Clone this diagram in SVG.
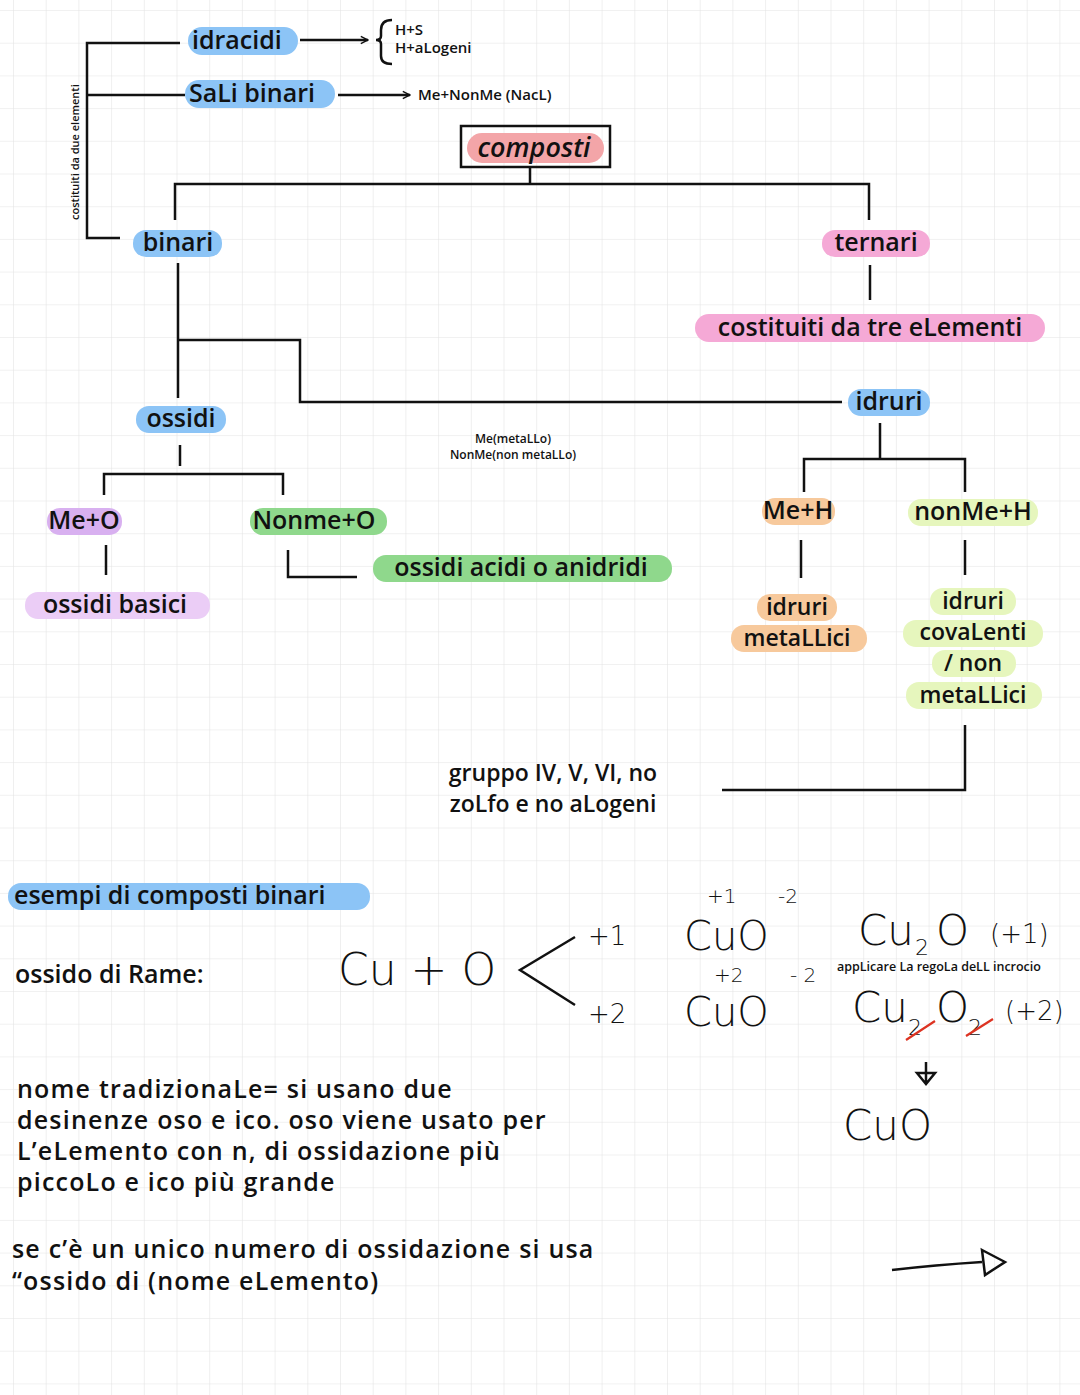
<svg xmlns="http://www.w3.org/2000/svg" width="1080" height="1395" viewBox="0 0 1080 1395">
<defs>
<pattern id="grid" x="13" y="10" width="32.7" height="32.7" patternUnits="userSpaceOnUse">
<path d="M0 0H32.7M0 0V32.7" fill="none" stroke="#e4e4e4" stroke-width="1.2"/>
</pattern>
<marker id="ar" viewBox="0 0 10 10" refX="9" refY="5" markerWidth="9" markerHeight="12" orient="auto" markerUnits="userSpaceOnUse"><path d="M1 1L9 5L1 9" fill="none" stroke="#111" stroke-width="1.6"/></marker>
</defs>
<style>
.t{font-family:"Open Sans","Liberation Sans",sans-serif;fill:#111;font-weight:600}
.l{font-size:25px}
.m{font-size:23px}
.p{font-size:25px;letter-spacing:1.2px}
.s{font-size:15px}
.c{text-anchor:middle}
.h{font-family:"DejaVu Sans","Liberation Sans",sans-serif;fill:#111;font-weight:200}
.ln{fill:none;stroke:#111;stroke-width:2.5}
.blue{fill:#8cc4f6}.pink{fill:#f5a9d6}.rose{fill:#f3a5a8}.purp{fill:#d8b0f0}.lav{fill:#ebcdf6}
.green{fill:#8fd88c}.orng{fill:#f7c99c}.yg{fill:#e6f6bd}
</style>
<rect width="1080" height="1395" fill="#fff"/>
<rect width="1080" height="1395" fill="url(#grid)"/>
<g id="connectors">
<path class="ln" d="M180 43H87V238H120M87 95H185"/>
<path class="ln" d="M300 40H368" marker-end="url(#ar)"/>
<path class="ln" d="M338 95H410" marker-end="url(#ar)"/>
<path class="ln" stroke-width="1.8" d="M392 20Q381 20 381 30V36Q381 40 376 40Q381 40 381 44V56Q381 64 392 64"/>
<path class="ln" d="M530 167V184M175 220V184H869V220"/>
<path class="ln" d="M870 265V300"/>
<path class="ln" d="M178 263V398M178 340H300V402H842"/>
<path class="ln" d="M180 445V466M104 495V474H283V495"/>
<path class="ln" d="M106 545V575M288 550V577H357"/>
<path class="ln" d="M880 423V458M804 492V459H965V492"/>
<path class="ln" d="M801 540V578M965 540V575"/>
<path class="ln" d="M965 725V790H722"/>
<path class="ln" stroke-width="1.8" d="M575 937L520 970L575 1005"/>
<path class="ln" stroke-width="1.8" d="M926 1062V1082M917 1073L926 1084L935 1073Z"/>
<path class="ln" stroke-width="2" d="M892 1270Q935 1265 982 1262M982 1250L1005 1262L985 1275Z"/>
</g>
<g id="idracidi"><rect class="blue" x="188" y="27" width="110" height="28" rx="14"/><text class="t l" x="192" y="49">idracidi</text></g>
<g id="hs"><text class="t s" x="395" y="35">H+S</text><text class="t s" x="395" y="53">H+aLogeni</text></g>
<g id="sali"><rect class="blue" x="185" y="80" width="150" height="28" rx="14"/><text class="t l" x="189" y="102">SaLi binari</text></g>
<g id="menonme"><text class="t s" x="418" y="100">Me+NonMe (NacL)</text></g>
<g id="vert"><text class="t" font-size="11" transform="translate(79 220) rotate(-90)">costituiti da due elementi</text></g>
<g id="composti"><rect x="461" y="126" width="149" height="41" fill="none" stroke="#111" stroke-width="2.5"/><rect class="rose" x="467" y="133" width="137" height="30" rx="15"/><text class="t c" x="534" y="157" font-size="27" font-family="Liberation Serif,serif" font-weight="700" font-style="italic">composti</text></g>
<g id="binari"><rect class="blue" x="133" y="230" width="89" height="27" rx="13"/><text class="t l c" x="178" y="251">binari</text></g>
<g id="ternari"><rect class="pink" x="822" y="230" width="108" height="27" rx="13"/><text class="t l c" x="876" y="251">ternari</text></g>
<g id="tre"><rect class="pink" x="695" y="314" width="350" height="28" rx="14"/><text class="t l c" x="870" y="336">costituiti da tre eLementi</text></g>
<g id="idruri"><rect class="blue" x="848" y="389" width="82" height="27" rx="13"/><text class="t l c" x="889" y="410">idruri</text></g>
<g id="ossidi"><rect class="blue" x="136" y="406" width="90" height="27" rx="13"/><text class="t l c" x="181" y="427">ossidi</text></g>
<g id="legend"><text class="t c" font-size="12" x="513" y="443">Me(metaLLo)</text><text class="t c" font-size="12" x="513" y="459">NonMe(non metaLLo)</text></g>
<g id="meo"><rect class="purp" x="47" y="508" width="75" height="27" rx="13"/><text class="t l c" x="84" y="529">Me+O</text></g>
<g id="nonmeo"><rect class="green" x="250" y="508" width="137" height="27" rx="13"/><text class="t l c" x="314" y="529">Nonme+O</text></g>
<g id="basici"><rect class="lav" x="25" y="592" width="185" height="27" rx="13"/><text class="t l c" x="115" y="613">ossidi basici</text></g>
<g id="acidi"><rect class="green" x="373" y="555" width="299" height="27" rx="13"/><text class="t l c" x="521" y="576">ossidi acidi o anidridi</text></g>
<g id="meh"><rect class="orng" x="762" y="498" width="73" height="27" rx="13"/><text class="t l c" x="798" y="519">Me+H</text></g>
<g id="nonmeh"><rect class="yg" x="908" y="499" width="130" height="27" rx="13"/><text class="t l c" x="973" y="520">nonMe+H</text></g>
<g id="metallici"><rect class="orng" x="757" y="594" width="80" height="27" rx="13"/><rect class="orng" x="731" y="625" width="136" height="27" rx="13"/><text class="t m c" x="797" y="615">idruri</text><text class="t m c" x="797" y="646">metaLLici</text></g>
<g id="covalenti"><rect class="yg" x="930" y="588" width="86" height="27" rx="13"/><rect class="yg" x="903" y="620" width="140" height="27" rx="13"/><rect class="yg" x="932" y="650" width="84" height="27" rx="13"/><rect class="yg" x="906" y="682" width="136" height="27" rx="13"/><text class="t m c" x="973" y="609">idruri</text><text class="t m c" x="973" y="640">covaLenti</text><text class="t m c" x="973" y="671">/ non</text><text class="t m c" x="973" y="703">metaLLici</text></g>
<g id="gruppo"><text class="t c" font-size="23" x="553" y="781">gruppo IV, V, VI, no</text><text class="t c" font-size="23" x="553" y="812">zoLfo e no aLogeni</text></g>
<g id="esempi"><rect class="blue" x="8" y="883" width="362" height="27" rx="13"/><text class="t l" x="14" y="904">esempi di composti binari</text></g>
<text class="t l" x="15" y="983">ossido di Rame:</text>
<g id="hand">
<text class="h" font-size="44" x="338" y="985">Cu + O</text>
<text class="h" font-size="26" x="588" y="945">+1</text>
<text class="h" font-size="26" x="588" y="1023">+2</text>
<text class="h" font-size="40" x="684" y="950">CuO</text>
<text class="h" font-size="20" x="707" y="903">+1</text>
<text class="h" font-size="20" x="778" y="903">-2</text>
<text class="h" font-size="40" x="684" y="1026">CuO</text>
<text class="h" font-size="20" x="714" y="982">+2</text>
<text class="h" font-size="20" x="790" y="982">- 2</text>
<text class="h" font-size="42" x="858" y="945">Cu</text><text class="h" font-size="22" x="915" y="955">2</text><text class="h" font-size="42" x="936" y="945">O</text><text class="h" font-size="26" x="990" y="943">(+1)</text>
<text class="t" font-size="12.5" x="837" y="971">appLicare La regoLa deLL incrocio</text>
<text class="h" font-size="42" x="852" y="1022">Cu</text><text class="h" font-size="22" x="908" y="1035">2</text><text class="h" font-size="42" x="936" y="1022">O</text><text class="h" font-size="22" x="968" y="1035">2</text><text class="h" font-size="26" x="1005" y="1020">(+2)</text>
<path d="M906 1040L935 1021M966 1036L993 1019" stroke="#d32" stroke-width="2.2" fill="none"/>
<text class="h" font-size="42" x="843" y="1140">CuO</text>
</g>
<g id="nome"><text class="t p" x="17" y="1098">nome tradizionaLe= si usano due</text><text class="t p" x="17" y="1129">desinenze oso e ico. oso viene usato per</text><text class="t p" x="17" y="1160">L’eLemento con n, di ossidazione più</text><text class="t p" x="17" y="1191">piccoLo e ico più grande</text></g>
<g id="unico"><text class="t p" x="12" y="1258">se c’è un unico numero di ossidazione si usa</text><text class="t p" x="12" y="1290">“ossido di (nome eLemento)</text></g>
</svg>
